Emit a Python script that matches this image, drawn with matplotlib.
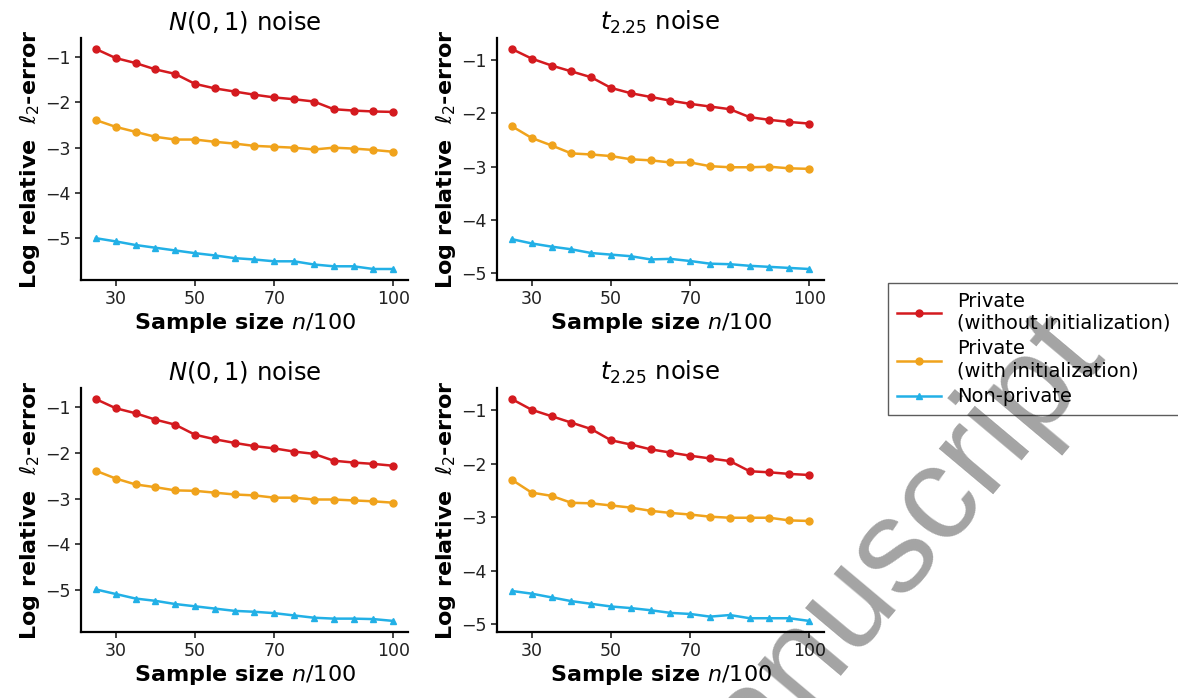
import matplotlib
matplotlib.use("Agg")
import matplotlib.pyplot as plt

# sample sizes (n/100)
sizes = [25, 30, 35, 40, 45, 50, 55, 60, 65, 70, 75, 80, 85, 90, 95, 100]

# top row
gauss_top_nonint = [-0.82, -1.02, -1.13, -1.27, -1.37, -1.59, -1.69, -1.76,
                    -1.83, -1.89, -1.93, -1.98, -2.15, -2.18, -2.20, -2.21]
gauss_top_init = [-2.39, -2.54, -2.65, -2.76, -2.82, -2.82, -2.87, -2.91,
                  -2.96, -2.98, -3.00, -3.04, -3.00, -3.02, -3.05, -3.09]
gauss_top_np = [-5.00, -5.07, -5.15, -5.21, -5.27, -5.33, -5.38, -5.44,
                -5.47, -5.51, -5.51, -5.58, -5.62, -5.62, -5.68, -5.68]

t_top_nonint = [-0.79, -0.97, -1.10, -1.21, -1.32, -1.52, -1.62, -1.69,
                -1.76, -1.82, -1.87, -1.92, -2.07, -2.12, -2.16, -2.19]
t_top_init = [-2.24, -2.46, -2.60, -2.75, -2.77, -2.80, -2.86, -2.88,
              -2.92, -2.92, -2.99, -3.01, -3.01, -3.00, -3.03, -3.04]
t_top_np = [-4.36, -4.44, -4.50, -4.55, -4.62, -4.65, -4.68, -4.74,
            -4.73, -4.77, -4.82, -4.83, -4.86, -4.88, -4.90, -4.92]

# bottom row
gauss_bot_nonint = [-0.82, -1.02, -1.13, -1.27, -1.38, -1.60, -1.70, -1.78,
                    -1.85, -1.90, -1.97, -2.02, -2.17, -2.21, -2.24, -2.28]
gauss_bot_init = [-2.39, -2.56, -2.69, -2.75, -2.82, -2.83, -2.87, -2.91,
                  -2.93, -2.98, -2.98, -3.02, -3.02, -3.04, -3.06, -3.09]
gauss_bot_np = [-4.99, -5.09, -5.19, -5.24, -5.31, -5.36, -5.41, -5.46,
                -5.48, -5.51, -5.56, -5.61, -5.63, -5.63, -5.64, -5.68]

t_bot_nonint = [-0.79, -0.99, -1.11, -1.23, -1.35, -1.56, -1.64, -1.73,
                -1.79, -1.85, -1.90, -1.95, -2.14, -2.16, -2.19, -2.21]
t_bot_init = [-2.30, -2.54, -2.60, -2.73, -2.74, -2.78, -2.82, -2.88,
              -2.92, -2.95, -2.99, -3.01, -3.01, -3.01, -3.06, -3.07]
t_bot_np = [-4.38, -4.43, -4.50, -4.57, -4.62, -4.67, -4.70, -4.74,
            -4.79, -4.81, -4.86, -4.83, -4.89, -4.89, -4.89, -4.94]

titles = ["$N(0,1)$ noise", "$t_{2.25}$ noise", "$N(0,1)$ noise", "$t_{2.25}$ noise"]
series_labels = ["Private\n(without initialization)", "Private\n(with initialization)", "Non-private"]
xticks = [30, 50, 70, 100]

colors = ["#d41a1f", "#f0a31c", "#22b0e6"]
markers = ["o", "o", "^"]

panels = [
    (gauss_top_nonint, gauss_top_init, gauss_top_np),
    (t_top_nonint, t_top_init, t_top_np),
    (gauss_bot_nonint, gauss_bot_init, gauss_bot_np),
    (t_bot_nonint, t_bot_init, t_bot_np),
]

W, H = 1178, 698
fig = plt.figure(figsize=(W / 100, H / 100), dpi=100)

# axes rectangles in pixels: left, top, right, bottom
boxes = [(81, 38, 408, 280), (497, 38, 824, 280),
         (81, 388, 408, 632), (497, 388, 824, 632)]

handles = []
for k, (box, data) in enumerate(zip(boxes, panels)):
    l, t, r, b = box
    ax = fig.add_axes([l / W, 1 - b / H, (r - l) / W, (b - t) / H])
    for ys, c, m, lab in zip(data, colors, markers, series_labels):
        h, = ax.plot(sizes, ys, color=c, marker=m, markersize=5, linewidth=1.8, label=lab)
        if k == 0:
            handles.append(h)
    ax.set_title(titles[k], fontsize=17.5)
    ax.set_xlabel("Sample size $n/100$", fontsize=16, fontweight="bold", labelpad=2)
    ax.set_ylabel("Log relative  $\\ell_2$-error", fontsize=16, fontweight="bold", labelpad=2)
    ax.set_xticks(xticks)
    ax.set_yticks([-1, -2, -3, -4, -5])
    ax.tick_params(labelsize=12.5, width=1.2, length=4, colors="#222222")
    ax.spines["top"].set_visible(False)
    ax.spines["right"].set_visible(False)
    ax.spines["left"].set_linewidth(1.6)
    ax.spines["bottom"].set_linewidth(1.6)

leg = fig.legend(handles=handles, loc="center left", bbox_to_anchor=(888 / W, 0.5),
                 borderaxespad=0, fontsize=14, frameon=True, fancybox=False,
                 handlelength=2.3, labelspacing=0.35, borderpad=0.45, handletextpad=0.8)
leg.get_frame().set_edgecolor("#333333")
leg.get_frame().set_linewidth(1.0)

# diagonal watermark across the lower right
fig.text(0.940, 0.486, "Author Manuscript", fontsize=96, family="Liberation Sans",
         color="black", alpha=0.36, rotation=50, rotation_mode="anchor",
         ha="right", va="baseline", zorder=10)

fig.savefig("out.png", dpi=100)
